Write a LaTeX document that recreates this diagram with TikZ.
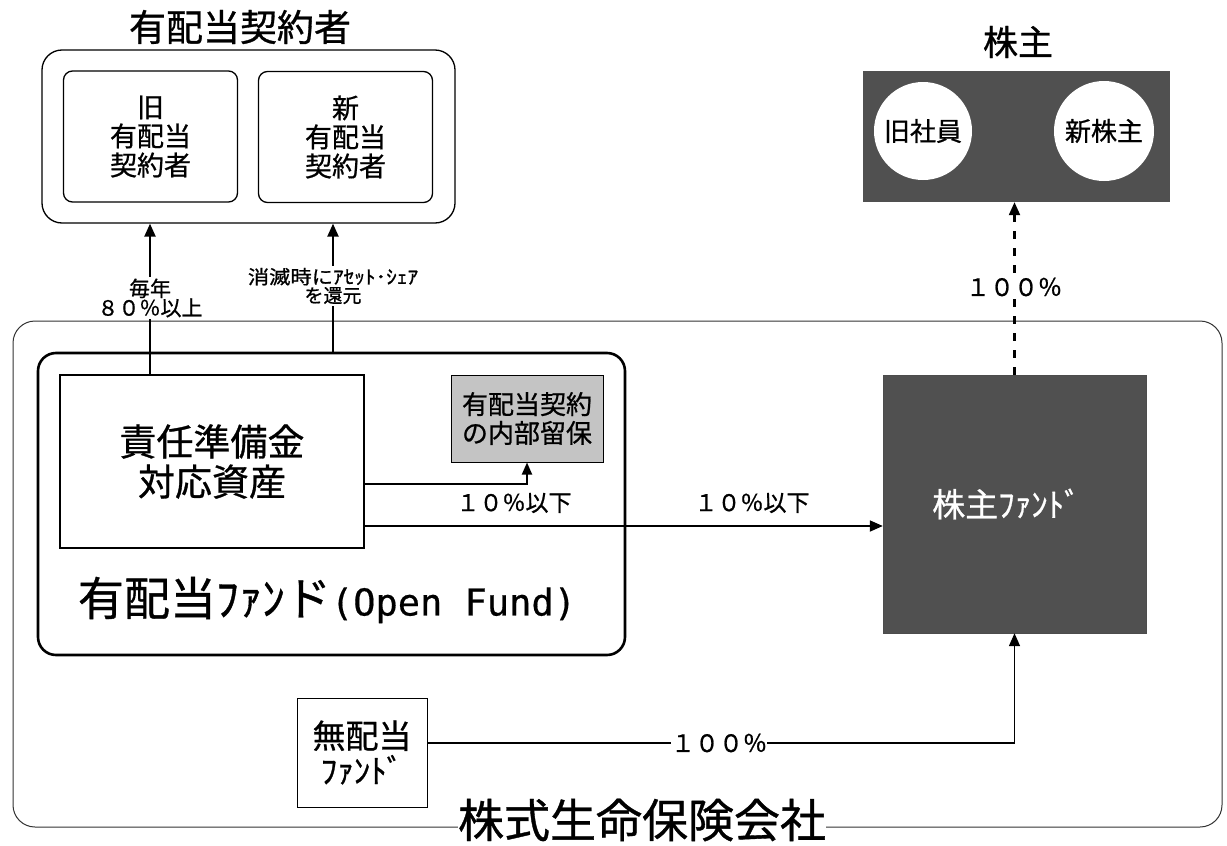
\documentclass[tikz,border=0pt]{standalone}
\usepackage{fontspec}
\setmainfont{Noto Sans CJK JP}[FakeBold=0.8]
\newfontfamily\monof{DejaVu Sans Mono}[FakeBold=0.5]
\usetikzlibrary{arrows.meta}
\definecolor{darkfill}{HTML}{505050}
\definecolor{lightfill}{HTML}{C4C4C4}
\begin{document}
\begin{tikzpicture}[x=1pt,y=-1pt,
  fs/.style={font=\pgfmathsetmacro\bskip{#1*1.3}\fontsize{#1}{\bskip}\selectfont},
  arr/.style={line width=2.2pt,-{Triangle[length=13pt,width=11pt]}},
  plain/.style={draw,line width=1.3pt,inner sep=0pt,align=center},
  lbl/.style={fill=white,inner sep=1.5pt,align=center}]
\useasboundingbox (0,0) rectangle (1227,846);
% company box
\node[draw=black!80,line width=1pt,rounded corners=22pt,minimum width=1209pt,minimum height=506pt] (company) at (617.5,574) {};
% dividend contractors
\node[fs=37] (ktitle) at (240,27) {有配当契約者};
\node[plain,rounded corners=20pt,minimum width=413pt,minimum height=173pt] (keiyaku) at (248.5,136.5) {};
\node[plain,rounded corners=9pt,minimum width=174pt,minimum height=131pt,fs=27,text width=170pt] (old) at (150.5,136.5) {旧\\[-6pt]有配当\\[-6pt]契約者};
\node[plain,rounded corners=9pt,minimum width=174pt,minimum height=131pt,fs=27,text width=170pt] (new) at (345.5,137) {新\\[-6pt]有配当\\[-6pt]契約者};
% shareholders
\node[fs=35] (stitle) at (1018,42) {株主};
\node[fill=darkfill,minimum width=307pt,minimum height=131pt] (kabunushi) at (1016.5,136.5) {};
\node[circle,fill=white,minimum size=98pt,inner sep=0pt,fs=26] (c1) at (923,131) {旧社員};
\node[circle,fill=white,minimum size=100pt,inner sep=0pt,fs=26] (c2) at (1104,131) {新株主};
% with-profit fund
\node[draw,line width=2.6pt,rounded corners=18pt,minimum width=587pt,minimum height=302pt] (fund) at (331.5,504) {};
\node[fs=46,inner sep=0pt] (fundlbl) at (327,600) {有配当ﾌｧﾝド{\monof\fontsize{37}{40}\selectfont (Open Fund)}};
\node[plain,minimum width=304pt,minimum height=173pt,fs=37,text width=300pt] (sekinin) at (212,461.5) {責任準備金\\[-8pt]対応資産};
\node[draw,line width=1pt,fill=lightfill,minimum width=152pt,minimum height=87pt,fs=26,align=center,inner sep=0pt] (grey) at (527,418.5) {有配当契約\\[-5pt]の内部留保};
% shareholder fund
\node[fill=darkfill,draw=black!70,minimum width=263pt,minimum height=258pt,fs=33,text=white] (kabufund) at (1014.5,504) {\hspace*{-16pt}株主ﾌｧﾝﾄﾞ};
% non-profit fund
\node[plain,line width=1pt,minimum width=130pt,minimum height=109pt,fs=33,text width=126pt] (mu) at (362,752.5) {無配当\\[-8pt]ﾌｧﾝﾄﾞ};
% coordinates
\coordinate (lx) at (150,0);
\coordinate (rx) at (333,0);
\coordinate (y1) at (0,484);
\coordinate (y2) at (0,526);
\coordinate (y3) at (0,743);
% connectors
\draw[arr] (sekinin.north -| lx) -- (keiyaku.south -| lx);
\draw[arr] (fund.north -| rx) -- (keiyaku.south -| rx);
\draw[line width=1.8pt,-{Triangle[length=12pt,width=10pt]}] (sekinin.east |- y1) -| (grey.south);
\draw[line width=1.8pt,-{Triangle[length=13pt,width=11pt]}] (sekinin.east |- y2) -- (kabufund.west |- y2);
\draw[line width=2.2pt,dash pattern=on 8pt off 9pt,-{Triangle[length=13pt,width=11pt]}] (kabufund.north) -- (kabufund.north |- kabunushi.south);
\draw[line width=1.5pt,-{Triangle[length=13pt,width=11pt]}] (mu.east |- y3) -| (kabufund.south);
% labels
\node[lbl,fs=21] (l1) at (150,298) {毎年\\[-8pt]８０％以上};
\node[lbl,fs=19] (l2) at (333,286) {\scalebox{1.12}[1]{消滅時にｱｾｯﾄ･ｼｪｱ}\\[-6pt]を還元};
\node[fs=23] (l3) at (514,503) {１０％以下};
\node[fs=23] (l4) at (752,503) {１０％以下};
\node[lbl,fs=24] (l5) at (1014,287) {１００％};
\node[lbl,fs=24,inner sep=0pt] (l6) at (719,743) {１００％};
\node[lbl,fs=46,inner sep=0pt] (ctitle) at (642,820) {株式生命保険会社};
\end{tikzpicture}
\end{document}
